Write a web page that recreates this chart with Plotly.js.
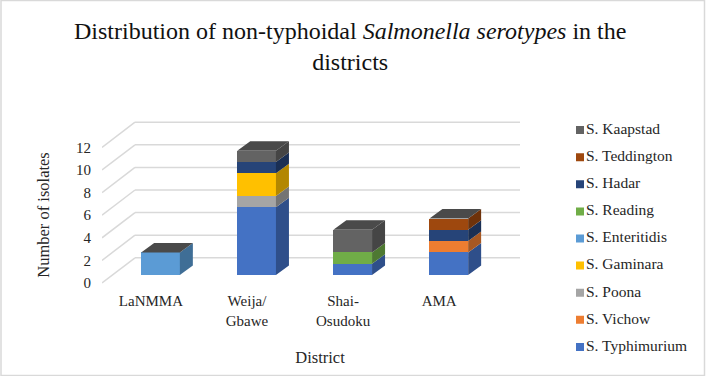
<!DOCTYPE html>
<html><head><meta charset="utf-8">
<script src="https://cdn.plot.ly/plotly-3.0.1.min.js"></script>
<style>html,body{margin:0;padding:0;background:#fff}</style></head>
<body><div id="c" style="width:706px;height:376px"></div>
<script>
var districts = ["LaNMMA","Weija/<br>Gbawe","Shai-<br>Osudoku","AMA"];
var serotypes = ["S. Typhimurium","S. Vichow","S. Poona","S. Gaminara","S. Enteritidis","S. Reading","S. Hadar","S. Teddington","S. Kaapstad"];
var typhimurium = [0,6,1,2];
var vichow = [0,0,0,1];
var poona = [0,1,0,0];
var gaminara = [0,2,0,0];
var enteritidis = [2,0,0,0];
var reading = [0,0,1,0];
var hadar = [0,1,0,1];
var teddington = [0,0,0,1];
var kaapstad = [0,1,2,0];
var seriesValues = [typhimurium,vichow,poona,gaminara,enteritidis,reading,hadar,teddington,kaapstad];
var frontColors = ["#4472C4","#ED7D31","#A5A5A5","#FFC000","#5B9BD5","#70AD47","#264478","#9E480E","#636363"];
var sideColors = ["#2F4F8A","#A85822","#747474","#B38700","#3F6E96","#4E7932","#1A2F54","#6E320A","#454545"];
var topColor = "#4A4A4A";
var yTicks = [0,2,4,6,8,10,12];

// page geometry: the plot area spans the chart and the legend
var W=706,H=376,areaL=102,areaR=706,areaT=110,areaB=365;
var L=102,R=538,T=121,B=309,gridEnd=520,pxX=96.1,pxY=11.3,x0Px=160.5,y0Px=275;
var barW=38.7/pxX, depthX=13/pxX, depthY=9.5/pxY;
var wallDX=33/pxX, wallDY=17.2/pxY, floorDY=-8/pxY;
var xMin=(L-x0Px)/pxX, xMax=(R-x0Px)/pxX, yMin=(y0Px-B)/pxY, yMax=(y0Px-T)/pxY, xGrid=(gridEnd-x0Px)/pxX;
var areaW=areaR-areaL, areaH=areaB-areaT;
var idx=districts.map(function(d,i){return i});

var traces=[], cum=idx.map(function(){return 0});
var topX=[],topY=[];
seriesValues.forEach(function(vals,s){
  traces.push({type:'bar',name:serotypes[s],x:idx,y:vals,width:barW,
    marker:{color:frontColors[s],line:{width:0}},showlegend:false,hoverinfo:'name+y'});
  var sx=[],sy=[];
  vals.forEach(function(v,i){
    if(!v)return;
    var a=i+barW/2,b=cum[i],c=b+v;
    sx.push(a,a+depthX,a+depthX,a,a,null);
    sy.push(b,b+depthY,c+depthY,c,b,null);
    cum[i]=c;
  });
  traces.push({type:'scatter',mode:'lines',x:sx,y:sy,fill:'toself',fillcolor:sideColors[s],
    line:{width:0,color:sideColors[s]},showlegend:false,hoverinfo:'skip'});
});
idx.forEach(function(i){
  var l=i-barW/2,r=i+barW/2,h=cum[i];
  topX.push(l,r,r+depthX,l+depthX,l,null);
  topY.push(h,h,h+depthY,h+depthY,h,null);
});
traces.push({type:'scatter',mode:'lines',x:topX,y:topY,fill:'toself',fillcolor:topColor,
  line:{width:0,color:topColor},showlegend:false,hoverinfo:'skip'});

// legend, top to bottom
var legendNames=serotypes.slice().reverse(), legendColors=frontColors.slice().reverse();
traces.push({type:'scatter',mode:'markers+text',xaxis:'x2',yaxis:'y2',
  x:legendNames.map(function(){return 0}),
  y:legendNames.map(function(n,i){return legendNames.length-i}),
  text:legendNames,textposition:'middle right',
  textfont:{family:'"Liberation Serif",serif',size:15.5,color:'#262626'},
  marker:{symbol:'square',size:8,color:legendColors},showlegend:false,hoverinfo:'text'});

var shapes=[];
yTicks.forEach(function(t){
  var line={color:'#D9D9D9',width:1.5};
  shapes.push({type:'line',layer:'below',xref:'x',yref:'y',x0:xMin,y0:t+floorDY,x1:xMin+wallDX,y1:t+wallDY,line:line});
  shapes.push({type:'line',layer:'below',xref:'x',yref:'y',x0:xMin+wallDX,y0:t+wallDY,x1:xGrid,y1:t+wallDY,line:line});
});
// thin frame round the picture
shapes.push({type:'rect',layer:'above',xref:'paper',yref:'paper',
  x0:(1-areaL)/areaW,x1:(704.5-areaL)/areaW,y0:(areaB-375.5)/areaH,y1:(areaB-0.5)/areaH,
  line:{color:'#D9D9D9',width:1.5},fillcolor:'rgba(0,0,0,0)'});

var serif='"Liberation Serif",serif';
var layout={width:W,height:H,margin:{l:areaL,r:W-areaR,t:areaT,b:H-areaB},
  paper_bgcolor:'#fff',plot_bgcolor:'rgba(0,0,0,0)',barmode:'stack',bargap:0,showlegend:false,
  font:{family:serif,color:'#262626',size:15},
  title:{text:'Distribution of non-typhoidal <i>Salmonella serotypes</i> in the<br>districts',
    font:{family:serif,size:24,color:'#111'},x:0.496,xanchor:'center',y:0.897,yanchor:'top'},
  xaxis:{domain:[0,(R-L)/areaW],range:[xMin,xMax],tickmode:'array',tickvals:idx.map(function(i){return i-0.1}),ticktext:districts,
    showgrid:false,zeroline:false,showline:false,ticks:'',anchor:'free',position:(areaB-290)/areaH,
    title:{text:'District',font:{family:serif,size:16.5,color:'#262626'},standoff:23},automargin:false},
  yaxis:{domain:[(areaB-B)/areaH,(areaB-T)/areaH],range:[yMin,yMax],tickmode:'array',tickvals:yTicks.map(function(t){return t+floorDY}),ticktext:yTicks.map(String),
    showgrid:false,zeroline:false,showline:false,ticks:'',ticklabelstandoff:10,anchor:'x',
    title:{text:'Number of isolates',font:{family:serif,size:16.5,color:'#262626'},standoff:22},automargin:false},
  xaxis2:{domain:[(576-areaL)/areaW,1],range:[-4,126],visible:false,fixedrange:true,anchor:'y2'},
  yaxis2:{domain:[(areaB-360.5)/areaH,(areaB-116.5)/areaH],range:[0.5,9.5],visible:false,fixedrange:true,anchor:'x2'},
  shapes:shapes};
Plotly.newPlot('c',traces,layout,{displayModeBar:false,responsive:false});
</script></body></html>
